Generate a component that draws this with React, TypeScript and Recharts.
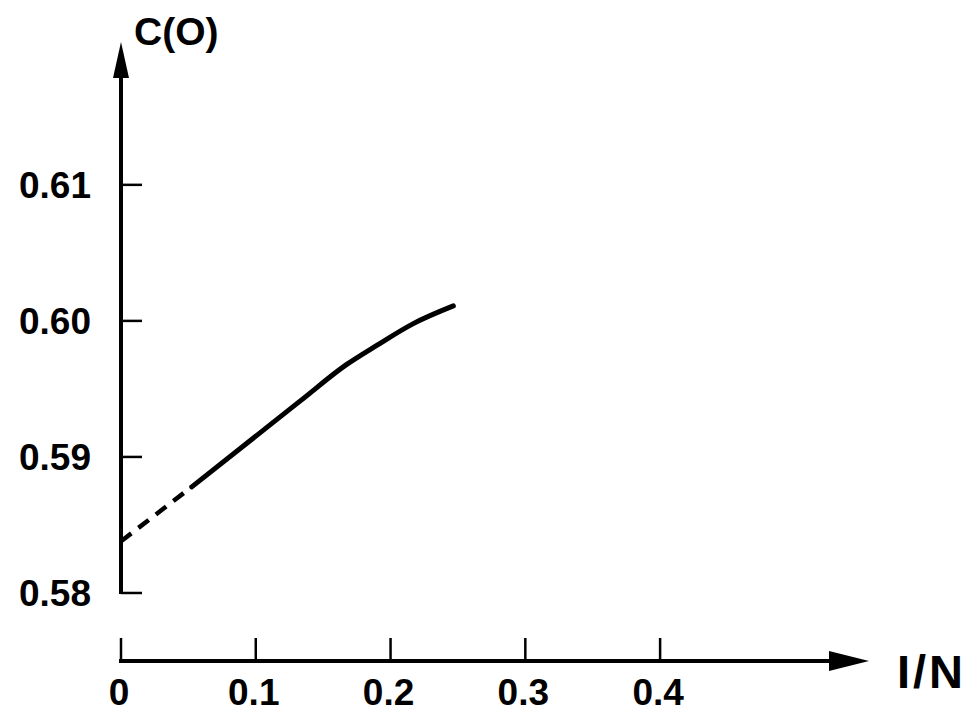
import React from 'react';
import { LineChart, Line, XAxis, YAxis, ReferenceLine } from 'recharts';

// ---- data ----
const xTicks = [0, 0.1, 0.2, 0.3, 0.4];
const xTickLabels = ['0', '0.1', '0.2', '0.3', '0.4'];
const yTicks = [0.58, 0.59, 0.6, 0.61];
const yTickLabels = ['0.58', '0.59', '0.60', '0.61'];

const extrapolatedX = [0, 0.0525];
const extrapolatedY = [0.5838, 0.5878];

const computedX = [0.0525, 0.0908, 0.1328, 0.1675, 0.1898, 0.2169, 0.2466];
const computedY = [0.5878, 0.5908, 0.5941, 0.5968, 0.5982, 0.5998, 0.6011];

const xTitle = 'I/N';
const yTitle = 'C(O)';

const xDomain: [number, number] = [0, 0.555];
const yDomain: [number, number] = [0.575, 0.6205];

const extrapolated = extrapolatedX.map((x, i) => ({ x, y: extrapolatedY[i] }));
const computed = computedX.map((x, i) => ({ x, y: computedY[i] }));

const FONT = '"Liberation Sans", Arial, Helvetica, sans-serif';

const XTick = (props: any) => {
  const { x, y, payload } = props;
  const i = xTicks.indexOf(payload.value);
  return (
    <g>
      <line x1={x} y1={y - 23} x2={x} y2={y} stroke="#000" strokeWidth={2.5} />
      <text
        x={x - 2}
        y={y + 44}
        textAnchor="middle"
        fontFamily={FONT}
        fontWeight="bold"
        fontSize={37}
        fill="#000"
      >
        {xTickLabels[i]}
      </text>
    </g>
  );
};

const YTick = (props: any) => {
  const { x, y, payload } = props;
  const i = yTicks.indexOf(payload.value);
  return (
    <g>
      <line x1={x} y1={y} x2={x + 21} y2={y} stroke="#000" strokeWidth={2.5} />
      <text
        x={x - 30}
        y={y}
        dy="0.36em"
        textAnchor="end"
        fontFamily={FONT}
        fontWeight="bold"
        fontSize={37}
        fill="#000"
      >
        {yTickLabels[i]}
      </text>
    </g>
  );
};

const YArrow = (props: any) => {
  const { x1, y1, x2, y2 } = props;
  const x = x1;
  const top = Math.min(y1, y2);
  const bottom = Math.max(y1, y2);
  return (
    <g>
      <line x1={x} y1={bottom + 1} x2={x} y2={top + 20} stroke="#000" strokeWidth={4} />
      <polygon points={`${x},${top} ${x - 8},${top + 36} ${x + 8},${top + 36}`} fill="#000" />
      <text
        x={x + 13}
        y={top + 3}
        fontFamily={FONT}
        fontWeight="bold"
        fontSize={39}
        fill="#000"
      >
        {yTitle}
      </text>
    </g>
  );
};

const XArrow = (props: any) => {
  const { x1, y1, x2, y2 } = props;
  const y = y1;
  const left = Math.min(x1, x2);
  const right = Math.max(x1, x2);
  return (
    <g>
      <line x1={left - 2} y1={y} x2={right - 20} y2={y} stroke="#000" strokeWidth={4} />
      <polygon points={`${right},${y} ${right - 40},${y - 10} ${right - 40},${y + 10}`} fill="#000" />
      <text
        x={right + 28}
        y={y + 27}
        fontFamily={FONT}
        fontWeight="bold"
        fontSize={47}
        letterSpacing={3}
        fill="#000"
      >
        {xTitle}
      </text>
    </g>
  );
};

export default function App() {
  return (
    <div style={{ position: 'absolute', left: 0, top: 0, width: 971, height: 720, background: '#fff' }}>
      <LineChart width={971} height={720} margin={{ top: 42, right: 102, bottom: 0, left: 8 }}>
        <XAxis
          type="number"
          dataKey="x"
          domain={xDomain}
          ticks={xTicks}
          interval={0}
          allowDataOverflow
          axisLine={false}
          tickLine={false}
          tickSize={0}
          tickMargin={0}
          tick={<XTick />}
          height={59}
        />
        <YAxis
          type="number"
          dataKey="y"
          domain={yDomain}
          ticks={yTicks}
          interval={0}
          allowDataOverflow
          axisLine={false}
          tickLine={false}
          tickSize={0}
          tickMargin={0}
          tick={<YTick />}
          width={113}
        />
        <ReferenceLine
          segment={[{ x: 0, y: 0.58 }, { x: 0, y: yDomain[1] }]}
          ifOverflow="visible"
          shape={(p: any) => <YArrow {...p} />}
        />
        <ReferenceLine
          segment={[{ x: 0, y: yDomain[0] }, { x: xDomain[1], y: yDomain[0] }]}
          ifOverflow="visible"
          shape={(p: any) => <XArrow {...p} />}
        />
        <Line
          data={extrapolated}
          dataKey="y"
          type="linear"
          stroke="#000"
          strokeWidth={4.5}
          strokeDasharray="13 9"
          dot={false}
          activeDot={false}
          isAnimationActive={false}
        />
        <Line
          data={computed}
          dataKey="y"
          type="monotone"
          stroke="#000"
          strokeWidth={5}
          strokeLinecap="round"
          dot={false}
          activeDot={false}
          isAnimationActive={false}
        />
      </LineChart>
    </div>
  );
}
